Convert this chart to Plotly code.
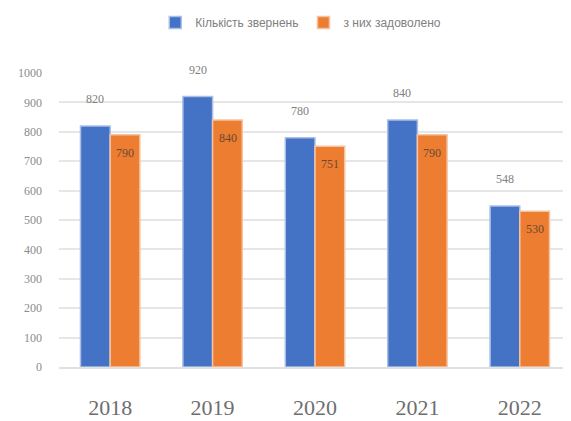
import plotly.graph_objects as go

years = ["2018", "2019", "2020", "2021", "2022"]
total = [820, 920, 780, 840, 548]
resolved = [790, 840, 751, 790, 530]
series_names = ["Кількість звернень", "з них задоволено"]
y_ticks = [0, 100, 200, 300, 400, 500, 600, 700, 800, 900, 1000]

BLUE = "#4472C4"
ORANGE = "#ED7D31"

fig = go.Figure()
fig.add_trace(go.Bar(
    x=years, y=total, name=series_names[0],
    marker=dict(color=BLUE, line=dict(color="#A9BFE6", width=1.5)),
))
fig.add_trace(go.Bar(
    x=years, y=resolved, name=series_names[1],
    marker=dict(color=ORANGE, line=dict(color="#F6C3A2", width=1.5)),
))

for i, v in enumerate(total):
    fig.add_annotation(x=i, y=v, text=str(v), showarrow=False,
                       xshift=-15, yshift=27, yanchor="middle",
                       font=dict(color="#808080", size=12, family="Liberation Serif"))
for i, v in enumerate(resolved):
    fig.add_annotation(x=i, y=v, text=str(v), showarrow=False,
                       xshift=15, yshift=-18, yanchor="middle",
                       font=dict(color="#6B4A33", size=12, family="Liberation Serif"))

fig.update_layout(
    width=563, height=413,
    margin=dict(l=51, r=0, t=65, b=54),
    plot_bgcolor="white", paper_bgcolor="white",
    barmode="group", bargap=0.42, bargroupgap=0.0,
    showlegend=True,
    legend=dict(orientation="h", x=0.52, xref="container", xanchor="center",
                y=1.0, yref="container", yanchor="top",
                font=dict(size=12, color="#808080", family="Liberation Sans"),
                itemwidth=30, tracegroupgap=0),
    font=dict(family="Liberation Serif", color="#7F7F7F"),
)
fig.update_yaxes(range=[0, 1000], tickvals=y_ticks, showgrid=True, gridcolor="#E6E6E6",
                 gridwidth=1.5, zeroline=False, tickfont=dict(size=12, color="#8C8C8C"),
                 ticks="", ticklabelstandoff=16)
fig.update_xaxes(type="category", range=[-0.5, 4.5], showline=True, linecolor="#E0E0E0",
                 linewidth=1.5, tickfont=dict(size=22, color="#6E6E6E"),
                 ticks="", ticklabelstandoff=20)

fig.write_html("out.html")
